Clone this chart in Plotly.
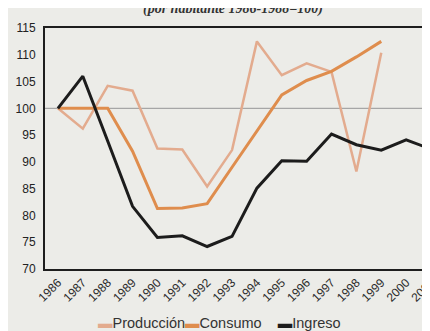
import plotly.graph_objects as go

# ---- data ----
years = ["1986", "1987", "1988", "1989", "1990", "1991", "1992", "1993",
         "1994", "1995", "1996", "1997", "1998", "1999", "2000", "2001"]
produccion = [100, 96.2, 104.2, 103.3, 92.5, 92.3, 85.4, 92.2,
              112.5, 106.2, 108.4, 106.8, 88.2, 110.4, None, None]
consumo = [100, 100, 100, 92.0, 81.3, 81.4, 82.2, 89.0,
           95.7, 102.5, 105.2, 106.9, 109.6, 112.5, None, None]
ingreso = [100, 106.0, 93.9, 81.7, 75.9, 76.2, 74.2, 76.1,
           85.1, 90.2, 90.1, 95.2, 93.2, 92.2, 94.1, 92.4]
series_names = ["Producción", "Consumo", "Ingreso"]
base_value = [100]
y_ticks = [70, 75, 80, 85, 90, 95, 100, 105, 110, 115]
title_text = "(por habitante 1986-1988=100)"

# ---- styles ----
colors = ["#E3AB8E", "#DF8D4D", "#1C1C1C"]
widths = [2.5, 3, 3]
bg = "#ECECE8"

fig = go.Figure()
for name, vals, c, w in zip(series_names, [produccion, consumo, ingreso], colors, widths):
    fig.add_trace(go.Scatter(x=years, y=vals, mode="lines", name=name,
                             line=dict(color=c, width=w), connectgaps=False))

# reference line at base value
for b in base_value:
    fig.add_shape(type="line", xref="paper", x0=0, x1=1, yref="y", y0=b, y1=b,
                  line=dict(color="#A6A6A6", width=1.3), layer="below")

# legend built as one text line
legend_parts = []
for name, c in zip(series_names, colors):
    legend_parts.append(f'<span style="color:{c}">▬</span>{name}')
legend_text = legend_parts[0] + legend_parts[1] + "    " + legend_parts[2]

fig.add_annotation(text=legend_text, xref="paper", yref="paper",
                   x=0.45, y=-0.225, xanchor="center", yanchor="middle",
                   showarrow=False,
                   font=dict(family="Liberation Sans, Arial", size=14.5, color="#333333"))

fig.add_annotation(text="<b><i>" + title_text + "</i></b>", xref="paper", yref="paper",
                   x=0.485, y=1, xanchor="center", yanchor="middle", yshift=19,
                   showarrow=False,
                   font=dict(family="Liberation Serif, DejaVu Serif", size=14, color="#333333"))

fig.update_layout(
    width=430, height=331,
    margin=dict(l=37, r=0, t=20, b=70),
    paper_bgcolor=bg, plot_bgcolor=bg,
    showlegend=False,
    font=dict(family="Liberation Sans, Arial", color="#222222"),
    xaxis=dict(type="category", range=[-0.52, 15.08],
               showgrid=False, zeroline=False,
               showline=True, mirror=True, linecolor="#1E1E1E", linewidth=2,
               tickangle=-45, tickfont=dict(size=12, color="#2A2A2A"),
               ticks=""),
    yaxis=dict(range=[70, 115], tickvals=y_ticks,
               showgrid=False, zeroline=False,
               showline=True, linecolor="#1E1E1E", linewidth=2,
               tickfont=dict(size=12, color="#222222"), ticks="",
               ticklabelstandoff=5),
)

fig.write_html("out.html")
